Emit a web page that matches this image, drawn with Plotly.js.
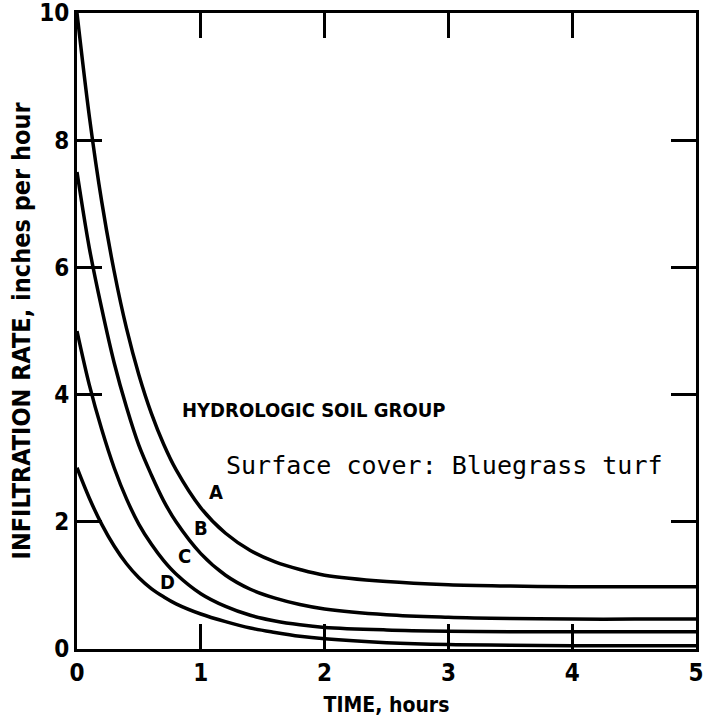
<!DOCTYPE html>
<html>
<head>
<meta charset="utf-8">
<script src="https://cdn.plot.ly/plotly-3.0.1.min.js"></script>
<style>html,body{margin:0;padding:0;background:#fff;}#chart{width:704px;height:721px;}</style>
</head>
<body>
<div id="chart"></div>
<script>
// Time, hours
const timeHours = [0, 0.1, 0.2, 0.3, 0.4, 0.5, 0.6, 0.7, 0.8, 1.0, 1.2, 1.4, 1.6, 1.8, 2.0, 2.5, 3, 3.5, 4, 4.5, 5];
// Infiltration rate, inches per hour, by hydrologic soil group
const groupA = [10, 8.37, 7.03, 5.94, 5.04, 4.31, 3.71, 3.22, 2.82, 2.22, 1.82, 1.55, 1.37, 1.25, 1.16, 1.06, 1.01, 0.99, 0.98, 0.98, 0.98];
const groupB = [7.5, 6.3, 5.35, 4.5, 3.8, 3.2, 2.74, 2.33, 2.0, 1.5, 1.16, 0.94, 0.8, 0.7, 0.63, 0.54, 0.5, 0.48, 0.47, 0.47, 0.47];
const groupC = [5.0, 4.15, 3.45, 2.85, 2.36, 1.96, 1.65, 1.39, 1.18, 0.87, 0.67, 0.53, 0.44, 0.38, 0.34, 0.3, 0.28, 0.27, 0.27, 0.27, 0.27];
const groupD = [2.85, 2.37, 1.96, 1.62, 1.34, 1.12, 0.95, 0.82, 0.71, 0.55, 0.43, 0.33, 0.26, 0.2, 0.16, 0.1, 0.07, 0.06, 0.05, 0.05, 0.05];
const groupNames = ["A", "B", "C", "D"];
const xTickVals = [0, 1, 2, 3, 4, 5];
const yTickVals = [0, 2, 4, 6, 8, 10];
const titleText = "HYDROLOGIC SOIL GROUP";
const subtitleText = "Surface cover: Bluegrass turf";

const series = [groupA, groupB, groupC, groupD];
const traces = series.map((vals, i) => ({
  x: timeHours, y: vals, name: groupNames[i], type: "scatter", mode: "lines",
  line: {color: "#000", width: 3.5, shape: "spline", smoothing: 1},
  hoverinfo: "skip", showlegend: false
}));

const boldFont = {family: "DejaVu Sans Condensed", weight: "bold", color: "#000"};
const labelPos = [[1.12, 2.47], [1.0, 1.9], [0.87, 1.46], [0.73, 1.05]];
const annotations = groupNames.map((n, i) => ({
  x: labelPos[i][0], y: labelPos[i][1], xref: "x", yref: "y", text: n, showarrow: false,
  font: Object.assign({}, boldFont, {size: 20})
}));
annotations.push({x: 0.83, y: 3.76, xref: "x", yref: "y", xanchor: "left", text: titleText,
  showarrow: false, font: Object.assign({}, boldFont, {size: 20})});
annotations.push({x: 1.19, y: 2.89, xref: "x", yref: "y", xanchor: "left", text: subtitleText,
  showarrow: false, font: {family: "DejaVu Sans Mono", size: 25, color: "#000"}});

const axisCommon = {
  showgrid: false, zeroline: false, showline: true, linecolor: "#000", linewidth: 3,
  mirror: "ticks", ticks: "inside", ticklen: 25, tickwidth: 3, tickcolor: "#000",
  ticklabeloverflow: "allow",
  tickfont: Object.assign({}, boldFont, {size: 24}), fixedrange: true
};

const layout = {
  width: 704, height: 721,
  margin: {l: 77, r: 8, t: 13, b: 72},
  paper_bgcolor: "#fff", plot_bgcolor: "#fff",
  xaxis: Object.assign({}, axisCommon, {range: [0, 5], tickvals: xTickVals,
    title: {text: "TIME, hours", font: Object.assign({}, boldFont, {size: 21}), standoff: 12}}),
  yaxis: Object.assign({}, axisCommon, {range: [0, 10], tickvals: yTickVals,
    title: {text: "INFILTRATION RATE, inches per hour",
      font: Object.assign({}, boldFont, {size: 25}), standoff: 2}}),
  annotations: annotations
};

Plotly.newPlot("chart", traces, layout, {displayModeBar: false, staticPlot: true});
</script>
</body>
</html>
